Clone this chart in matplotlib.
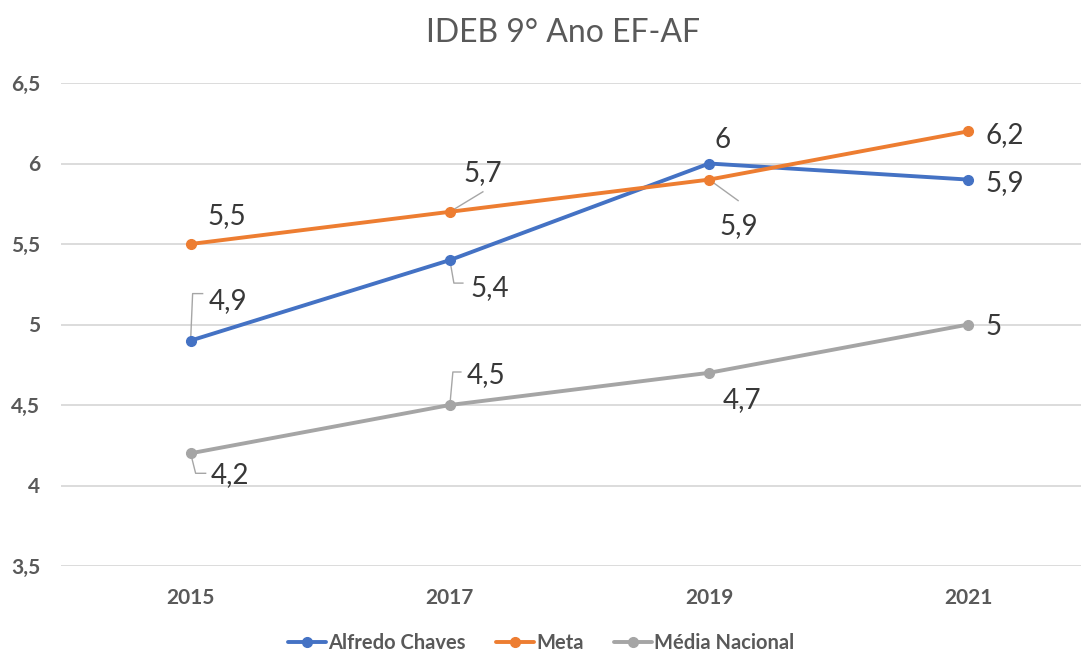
import matplotlib
matplotlib.use('agg')
import matplotlib.pyplot as plt
import matplotlib.transforms as mtransforms
from matplotlib.lines import Line2D

years = ["2015", "2017", "2019", "2021"]
alfredo = [4.9, 5.4, 6.0, 5.9]
meta = [5.5, 5.7, 5.9, 6.2]
media = [4.2, 4.5, 4.7, 5.0]

series_names = ["Alfredo Chaves", "Meta", "Média Nacional"]
series_colors = ["#4472C4", "#ED7D31", "#A5A5A5"]

# label placement, in pixels relative to the point: (dx, dy, leader vertices)
label_pos = {
    "Alfredo Chaves": [(18, 32, [(0, 0), (2, 47), (12, 47)]),
                       (21, -36, [(0, 0), (4, -23), (13, -23)]),
                       (5, 15, None),
                       (17, -11, None)],
    "Meta": [(17, 20, None),
             (14, 31, [(0, 0), (33, 20)]),
             (10, -54, [(0, 0), (29, -21)]),
             (17, -12, None)],
    "Média Nacional": [(20, -30, [(0, 0), (5, -20), (15, -20)]),
                       (17, 22, [(0, 0), (3, 33), (11, 33)]),
                       (14, -35, None),
                       (17, -11, None)],
}

DPI = 100
px = 72 / DPI

plt.rcParams['font.family'] = ['Lato', 'DejaVu Sans']

fig = plt.figure(figsize=(10.81, 6.53), dpi=DPI)
ax = fig.add_axes([61 / 1081, 1 - 566 / 653, 1 - 61 / 1081, (566 - 83) / 653])

x = list(range(len(years)))
for name, vals, col in zip(series_names, [alfredo, meta, media], series_colors):
    ax.plot(x, vals, color=col, lw=2.8, marker='o', markersize=7, label=name,
            solid_capstyle='round', zorder=3)
    for i, v in enumerate(vals):
        dx, dy, leader = label_pos[name][i]
        ax.annotate(f"{v:g}".replace(".", ","), xy=(i, v), xytext=(dx * px, dy * px),
                    textcoords='offset points', ha='left', va='baseline',
                    fontsize=20, color="#383838", zorder=4)
        if leader:
            tr = mtransforms.Affine2D().scale(1, 1) + mtransforms.ScaledTranslation(i, v, ax.transData)
            lx = [p[0] for p in leader]
            ly = [p[1] for p in leader]
            ax.add_line(Line2D(lx, ly, transform=tr, color="#A6A6A6", lw=1.0, zorder=2))

ax.set_ylim(3.5, 6.5)
ax.set_xlim(-0.5, 3.5 - 17 / 259.3)
ax.set_yticks([3.5, 4, 4.5, 5, 5.5, 6, 6.5])
ax.set_yticklabels(["3,5", "4", "4,5", "5", "5,5", "6", "6,5"])
ax.set_xticks(x)
ax.set_xticklabels(years)
ax.grid(axis='y', color="#D9D9D9", lw=1.3)
ax.set_axisbelow(True)
for s in ax.spines.values():
    s.set_visible(False)
ax.tick_params(axis='both', length=0, labelsize=15, labelcolor="#595959")
ax.tick_params(axis='y', pad=15)
ax.tick_params(axis='x', pad=16)
for lab in ax.get_xticklabels() + ax.get_yticklabels():
    lab.set_fontweight('bold')

fig.text(563 / 1081, 1 - 42 / 653, "IDEB 9° Ano EF-AF", ha='center', va='baseline',
         fontsize=23, color="#595959")

fig.legend(loc='center', bbox_to_anchor=(541 / 1081, 1 - 643 / 653), ncol=3, frameon=False,
           prop={'size': 14.5, 'weight': 'bold'}, labelcolor="#595959",
           handlelength=1.9, handletextpad=0.1, columnspacing=1.5)

fig.savefig("out.png", dpi=DPI)
